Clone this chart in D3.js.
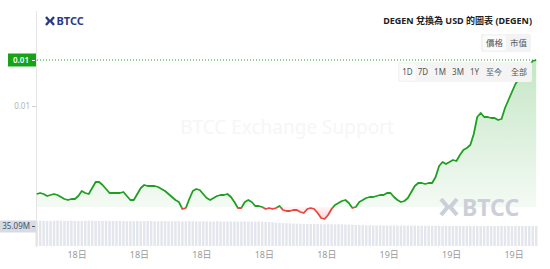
<!DOCTYPE html>
<html><head><meta charset="utf-8">
<script src="https://cdn.jsdelivr.net/npm/d3@7/dist/d3.min.js"></script>
<style>
body{margin:0;background:#fff;}
svg{display:block;font-family:"Noto Sans","Noto Sans CJK TC",sans-serif;}
</style>
</head><body>
<svg id="c" width="550" height="269"></svg>
<script>
// ---- data ----
const title = "DEGEN 兌換為 USD 的圖表 (DEGEN)";
const startHour = 7.062;        // 18日 07:04 (hours from 18日 00:00)
const stepHours = 1 / 6;        // one point every 10 minutes
const prices = [
  0.00912,0.00913,0.00912,0.00910,0.00911,0.00912,0.00911,0.00909,0.00907,0.00906,
  0.00907,0.00907,0.00910,0.00915,0.00913,0.00912,0.00918,0.00924,0.00924,0.00921,
  0.00917,0.00913,0.00913,0.00913,0.00913,0.00914,0.00910,0.00906,0.00906,0.00912,
  0.00918,0.00921,0.00920,0.00920,0.00920,0.00919,0.00917,0.00915,0.00912,0.00909,
  0.00906,0.00904,0.00897,0.00898,0.00907,0.00915,0.00917,0.00916,0.00912,0.00908,
  0.00906,0.00908,0.00910,0.00911,0.00911,0.00912,0.00909,0.00904,0.00898,0.00898,
  0.00904,0.00906,0.00904,0.00900,0.00900,0.00899,0.00897,0.00898,0.00897,0.00898,
  0.00900,0.00896,0.00895,0.00895,0.00896,0.00896,0.00894,0.00893,0.00897,0.00898,
  0.00897,0.00893,0.00888,0.00887,0.00891,0.00897,0.00901,0.00903,0.00905,0.00906,
  0.00903,0.00898,0.00899,0.00904,0.00906,0.00908,0.00909,0.00909,0.00910,0.00911,
  0.00911,0.00913,0.00913,0.00909,0.00906,0.00904,0.00905,0.00908,0.00914,0.00920,
  0.00923,0.00923,0.00922,0.00923,0.00923,0.00929,0.00940,0.00944,0.00942,0.00944,
  0.00946,0.00945,0.00951,0.00956,0.00958,0.00961,0.00972,0.00989,0.00993,0.00989,
  0.00989,0.00988,0.00988,0.00986,0.00987,0.00998,0.01006,0.01014,0.01022,0.01027,
  0.01032,0.01037,0.01041,0.01045,0.01046
];
const volumes = [ // millions
  44.2,44.5,44.1,43.8,44.0,44.3,44.6,44.2,43.9,44.1,44.4,44.0,43.7,43.9,44.2,44.5,44.3,44.0,43.8,44.1,
  44.3,43.9,43.6,43.8,44.1,43.9,43.5,43.7,44.0,43.8,43.4,43.6,43.9,43.7,43.3,43.5,43.8,43.6,43.2,43.4,
  43.7,43.5,43.1,43.3,43.6,43.4,43.0,43.2,43.5,43.3,42.9,43.1,43.4,43.2,42.8,43.0,43.3,43.1,42.7,42.9,
  43.2,43.0,42.6,42.8,43.1,42.9,42.4,42.1,41.7,41.2,40.8,40.5,40.1,39.8,39.5,39.2,39.0,38.8,38.6,38.5,
  38.4,38.6,38.3,38.1,38.4,38.2,38.0,38.3,38.1,37.9,37.6,37.3,37.0,36.8,36.6,36.4,36.3,36.1,36.0,35.9,
  36.1,35.9,35.8,36.0,35.8,35.7,35.9,35.7,35.6,35.8,35.6,35.5,35.7,35.5,35.4,35.6,35.4,35.3,35.5,35.3,
  35.2,35.4,35.2,35.1,35.3,35.1,35.0,35.2,35.0,35.1,35.3,35.1,35.0,35.2,35.0,34.9,35.1,34.9,35.0,35.2,
  35.0,34.9,35.1,35.0,35.09
];
const baseValue = 0.00899;
const priceTicks = [0.0100];
const timeTicks = [9, 12, 15, 18, 21, 24, 27, 30];
const timeTickLabels = ["18日","18日","18日","18日","18日","19日","19日","19日"];
const modeButtons = ["價格","市值"];
const rangeButtons = ["1D","7D","1M","3M","1Y","至今","全部"];

// ---- setup ----
const svg = d3.select("#c");
const x = d3.scaleLinear().domain([7, 31.1]).range([35.4, 537]);
const y = d3.scaleLinear().domain([0.0100, 0.01046]).range([106, 60]);
const v = d3.scaleLinear().domain([0, 35.09]).range([246, 226]);
const data = prices.map((p, i) => ({t: startHour + i * stepHours, p, vol: volumes[i]}));
const yBase = y(baseValue);
const GREEN = "#1f9f22", RED = "#e8453f";

const defs = svg.append("defs");
const gu = defs.append("linearGradient").attr("id","gUp").attr("gradientUnits","userSpaceOnUse")
  .attr("x1",0).attr("x2",0).attr("y1",y(d3.max(prices))).attr("y2",yBase);
gu.append("stop").attr("offset",0).attr("stop-color",GREEN).attr("stop-opacity",0.26);
gu.append("stop").attr("offset",1).attr("stop-color",GREEN).attr("stop-opacity",0.05);
const gd = defs.append("linearGradient").attr("id","gDown").attr("gradientUnits","userSpaceOnUse")
  .attr("x1",0).attr("x2",0).attr("y1",yBase).attr("y2",y(d3.min(prices)));
gd.append("stop").attr("offset",0).attr("stop-color",RED).attr("stop-opacity",0.05);
gd.append("stop").attr("offset",1).attr("stop-color",RED).attr("stop-opacity",0.22);
defs.append("clipPath").attr("id","cUp").append("rect").attr("x",36).attr("y",0).attr("width",510).attr("height",yBase);
defs.append("clipPath").attr("id","cDown").append("rect").attr("x",36).attr("y",yBase).attr("width",510).attr("height",269-yBase);

// watermark text
svg.append("text").attr("x",287).attr("y",134).attr("text-anchor","middle")
  .attr("font-size",19).attr("fill","#f6f6f6").text("BTCC Exchange Support");

// volume bars
const bw = x(startHour + stepHours) - x(startHour);
svg.append("g").selectAll("rect").data(data).join("rect")
  .attr("x", d => x(d.t) - bw / 2 + 0.5)
  .attr("width", bw - 1)
  .attr("y", d => v(d.vol))
  .attr("height", d => v(0) - v(d.vol))
  .attr("fill", "#e3e6ec");

// left axis line
svg.append("line").attr("x1",36.5).attr("x2",36.5).attr("y1",11).attr("y2",247)
  .attr("stroke","#e4e4e4");

// areas
const area = d3.area().x(d => x(d.t)).y0(yBase).y1(d => y(d.p));
svg.append("path").datum(data).attr("d",area).attr("fill","url(#gUp)").attr("clip-path","url(#cUp)");
svg.append("path").datum(data).attr("d",area).attr("fill","url(#gDown)").attr("clip-path","url(#cDown)");

// logo helper
function logo(g, x0, y0, s, color, sw) {
  g.append("path").attr("d",`M${x0},${y0} L${x0+s*0.42},${y0+s/2} L${x0},${y0+s}`)
    .attr("fill","none").attr("stroke",color).attr("stroke-width",sw);
  g.append("path").attr("d",`M${x0+s},${y0} L${x0+s*0.58},${y0+s/2} L${x0+s},${y0+s}`)
    .attr("fill","none").attr("stroke",color).attr("stroke-width",sw);
}
// watermark logo (bottom right)
const wm = svg.append("g");
logo(wm, 441, 199, 16, "#cbcfd9", 4.2);
wm.append("text").attr("x",462).attr("y",215.5).attr("font-size",23).attr("font-weight",700)
  .attr("fill","#cbcfd9").text("BTCC");

// lines
const line = d3.line().x(d => x(d.t)).y(d => y(d.p));
svg.append("path").datum(data).attr("d",line).attr("fill","none").attr("stroke",GREEN)
  .attr("stroke-width",1.8).attr("clip-path","url(#cUp)").attr("stroke-linejoin","round");
svg.append("path").datum(data).attr("d",line).attr("fill","none").attr("stroke",RED)
  .attr("stroke-width",1.8).attr("clip-path","url(#cDown)").attr("stroke-linejoin","round");

// last price dotted line
const last = prices[prices.length - 1];
svg.append("line").attr("x1",37).attr("x2",537).attr("y1",y(last)).attr("y2",y(last))
  .attr("stroke",GREEN).attr("stroke-width",1).attr("stroke-dasharray","1 2");

// price ticks
const fmt = d3.format(".2f");
priceTicks.forEach(t => {
  svg.append("text").attr("x",30).attr("y",y(t)).attr("dy","0.35em").attr("text-anchor","end")
    .attr("font-size",8).attr("fill","#b3b3b3").text(fmt(t));
  svg.append("line").attr("x1",32).attr("x2",36).attr("y1",y(t)+0.5).attr("y2",y(t)+0.5).attr("stroke","#d0d0d0");
});
// last price label
svg.append("rect").attr("x",8).attr("y",y(last)-6.5).attr("width",28).attr("height",13).attr("fill","#17a317");
svg.append("text").attr("x",21).attr("y",y(last)).attr("dy","0.35em").attr("text-anchor","middle")
  .attr("font-size",8).attr("font-weight",600).attr("fill","#fff").text(fmt(last));
svg.append("line").attr("x1",32).attr("x2",35).attr("y1",y(last)+0.5).attr("y2",y(last)+0.5).attr("stroke","#fff");

// volume label
const lastVol = volumes[volumes.length - 1];
svg.append("rect").attr("x",0).attr("y",v(lastVol)-5.5).attr("width",36).attr("height",12).attr("fill","#d6dce6");
svg.append("text").attr("x",30).attr("y",v(lastVol)+0.5).attr("dy","0.35em").attr("text-anchor","end")
  .attr("font-size",8).attr("fill","#4a5260").text(d3.format(".2f")(lastVol) + "M");
svg.append("line").attr("x1",32).attr("x2",35).attr("y1",v(lastVol)+0.5).attr("y2",v(lastVol)+0.5).attr("stroke","#4a5260");

// x axis labels
svg.append("g").selectAll("text").data(timeTicks).join("text")
  .attr("x", d => x(d)).attr("y", 258).attr("text-anchor","middle")
  .attr("font-size",9).attr("fill","#9a9a9a")
  .text((d, i) => timeTickLabels[i]);

// title
const tt = svg.append("text").attr("x",532).attr("y",23.5).attr("text-anchor","end")
  .attr("font-size",10).attr("font-weight",700).attr("fill","#222").text(title);
const tw = tt.node().getComputedTextLength();
tt.attr("font-size", 10 * 149 / tw);

// mode buttons
const mb = svg.append("g");
mb.append("rect").attr("x",481).attr("y",34).attr("width",50).attr("height",18).attr("rx",2).attr("fill","#f3f3f3");
mb.append("rect").attr("x",483).attr("y",35.5).attr("width",23).attr("height",15).attr("rx",2).attr("fill","#fbfbfb");
const mbX = [494.5, 518.5];
modeButtons.forEach((b, i) => {
  mb.append("text").attr("x",mbX[i]).attr("y",43).attr("dy","0.35em").attr("text-anchor","middle")
    .attr("font-size",8.5).attr("fill","#555").text(b);
});

// range buttons
const rb = svg.append("g");
rb.append("rect").attr("x",398).attr("y",62).attr("width",134).attr("height",20).attr("rx",2).attr("fill","#f4f4f4");
rb.append("rect").attr("x",399.5).attr("y",63.5).attr("width",16).attr("height",17).attr("rx",2).attr("fill","#fcfcfc");
const rbX = [407.5, 423, 440, 458, 474.5, 494, 519];
rangeButtons.forEach((b, i) => {
  rb.append("text").attr("x",rbX[i]).attr("y",72).attr("dy","0.35em").attr("text-anchor","middle")
    .attr("font-size",8).attr("fill","#555").text(b);
});

// top-left logo
const tl = svg.append("g");
logo(tl, 46, 17, 8, "#2b3a86", 2.4);
tl.append("text").attr("x",56.5).attr("y",24.8).attr("font-size",11).attr("font-weight",700)
  .attr("fill","#2b3a86").text("BTCC");
</script>
</body></html>
